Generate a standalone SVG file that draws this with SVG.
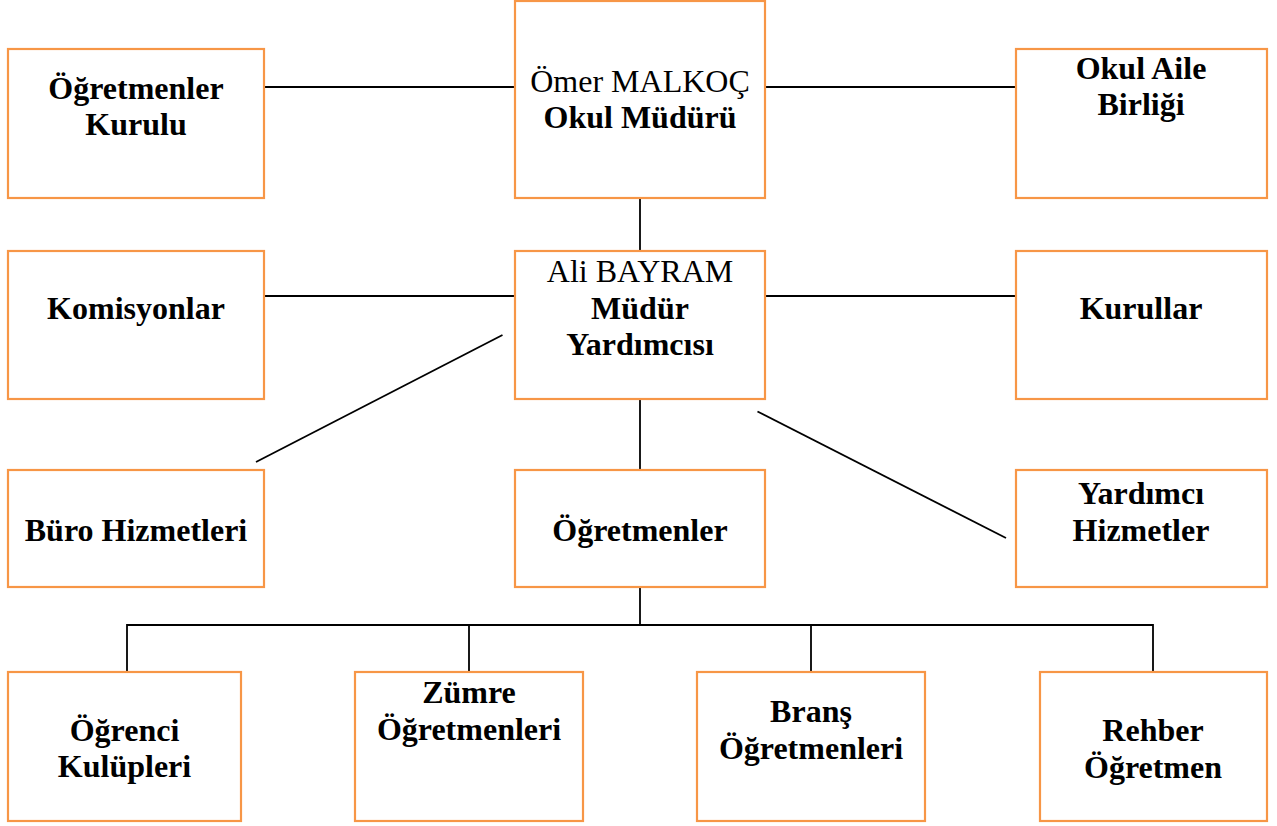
<svg xmlns="http://www.w3.org/2000/svg" width="1277" height="826" viewBox="0 0 1277 826">
<style>
.box{fill:#fff;stroke:#F79646;stroke-width:2.2}
.ln{stroke:#000;stroke-width:1.8;fill:none}
text{font-family:"Liberation Serif","Times New Roman",serif;font-size:32px;text-anchor:middle;fill:#000}
.b{font-weight:bold}
</style>
<rect width="1277" height="826" fill="#fff"/>
<g id="connectors">
<line class="ln" x1="264" y1="87" x2="514" y2="87"/>
<line class="ln" x1="765" y1="87" x2="1015" y2="87"/>
<line class="ln" x1="640" y1="198" x2="640" y2="251"/>
<line class="ln" x1="264" y1="296" x2="514" y2="296"/>
<line class="ln" x1="765" y1="296" x2="1015" y2="296"/>
<line class="ln" x1="502.5" y1="335" x2="256" y2="462"/>
<line class="ln" x1="757.5" y1="411.5" x2="1006" y2="538"/>
<line class="ln" x1="640" y1="399" x2="640" y2="470"/>
<line class="ln" x1="640" y1="587" x2="640" y2="625"/>
<polyline class="ln" points="127,672 127,625 1153,625 1153,672"/>
<line class="ln" x1="469" y1="625" x2="469" y2="672"/>
<line class="ln" x1="811" y1="625" x2="811" y2="672"/>
</g>
<g id="ogretmenler-kurulu">
<rect class="box" x="8" y="49" width="256" height="149"/>
<text class="b" x="136" y="99">Öğretmenler</text>
<text class="b" x="136" y="135">Kurulu</text>
</g>
<g id="okul-muduru">
<rect class="box" x="515" y="1" width="250" height="197"/>
<text x="640" y="92">Ömer MALKOÇ</text>
<text class="b" x="640" y="128">Okul Müdürü</text>
</g>
<g id="okul-aile-birligi">
<rect class="box" x="1016" y="49" width="251" height="149"/>
<text class="b" x="1141" y="79">Okul Aile</text>
<text class="b" x="1141" y="115">Birliği</text>
</g>
<g id="komisyonlar">
<rect class="box" x="8" y="251" width="256" height="148"/>
<text class="b" x="136" y="319">Komisyonlar</text>
</g>
<g id="mudur-yardimcisi">
<rect class="box" x="515" y="251" width="250" height="148"/>
<text x="640" y="282">Ali BAYRAM</text>
<text class="b" x="640" y="319">Müdür</text>
<text class="b" x="640" y="355">Yardımcısı</text>
</g>
<g id="kurullar">
<rect class="box" x="1016" y="251" width="251" height="148"/>
<text class="b" x="1141" y="319">Kurullar</text>
</g>
<g id="buro-hizmetleri">
<rect class="box" x="8" y="470" width="256" height="117"/>
<text class="b" x="136" y="541">Büro Hizmetleri</text>
</g>
<g id="ogretmenler">
<rect class="box" x="515" y="470" width="250" height="117"/>
<text class="b" x="640" y="541">Öğretmenler</text>
</g>
<g id="yardimci-hizmetler">
<rect class="box" x="1016" y="470" width="251" height="117"/>
<text class="b" x="1141" y="504">Yardımcı</text>
<text class="b" x="1141" y="541">Hizmetler</text>
</g>
<g id="ogrenci-kulupleri">
<rect class="box" x="8" y="672" width="233" height="149"/>
<text class="b" x="124.5" y="741">Öğrenci</text>
<text class="b" x="124.5" y="777">Kulüpleri</text>
</g>
<g id="zumre-ogretmenleri">
<rect class="box" x="355" y="672" width="228" height="149"/>
<text class="b" x="469" y="703">Zümre</text>
<text class="b" x="469" y="740">Öğretmenleri</text>
</g>
<g id="brans-ogretmenleri">
<rect class="box" x="697" y="672" width="228" height="149"/>
<text class="b" x="811" y="722">Branş</text>
<text class="b" x="811" y="759">Öğretmenleri</text>
</g>
<g id="rehber-ogretmen">
<rect class="box" x="1040" y="672" width="227" height="149"/>
<text class="b" x="1153" y="741">Rehber</text>
<text class="b" x="1153" y="778">Öğretmen</text>
</g>
</svg>
